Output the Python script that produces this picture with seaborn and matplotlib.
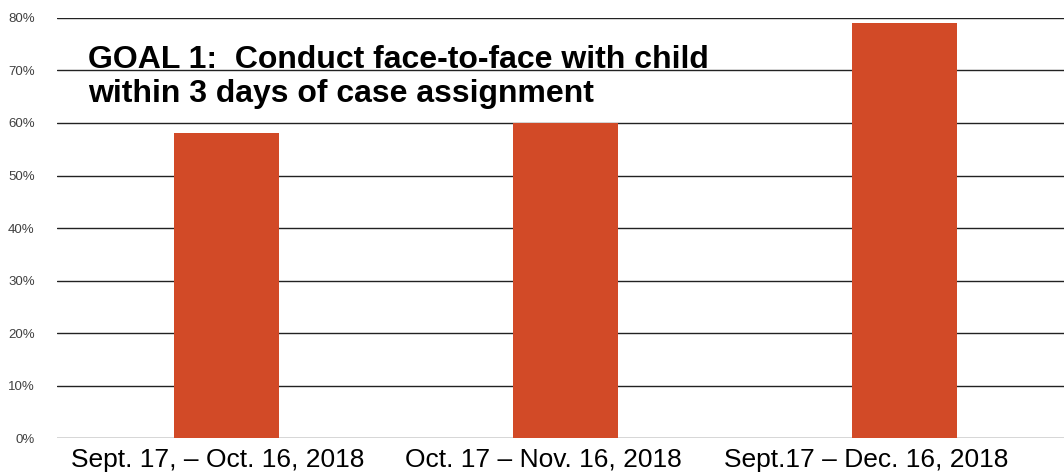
import pandas as pd
import numpy as np
import matplotlib
matplotlib.use("Agg")
import matplotlib.pyplot as plt
import matplotlib.transforms as mtransforms
import seaborn as sns
from matplotlib.ticker import PercentFormatter

periods = ["Sept. 17, \u2013 Oct. 16, 2018", "Oct. 17 \u2013 Nov. 16, 2018", "Sept.17 \u2013 Dec. 16, 2018"]
rates = [0.58, 0.60, 0.79]
yticks = [0.0, 0.1, 0.2, 0.3, 0.4, 0.5, 0.6, 0.7, 0.8]

df = pd.DataFrame({"period": periods, "rate": rates})

sns.set_style("white")
plt.rcParams["font.family"] = ["Liberation Sans", "DejaVu Sans"]

fig = plt.figure(figsize=(10.64, 4.76), dpi=100)
ax = fig.add_axes([0.0536, 0.0798, 0.9464, 0.8824])

sns.barplot(data=df, x="period", y="rate", color="#d24a27", saturation=1, width=0.31,
            linewidth=0, ax=ax, zorder=3)

ax.set_ylim(0, 0.8)
ax.set_xlim(-0.5, 2.47)
ax.set_yticks(yticks)
ax.yaxis.set_major_formatter(PercentFormatter(1.0, decimals=0))
for y in yticks[1:]:
    ax.axhline(y, color="#222222", lw=1.0, zorder=1)
ax.axhline(0, color="#d0d0d0", lw=1.2, zorder=1)

for s in ax.spines.values():
    s.set_visible(False)
ax.tick_params(axis="y", labelsize=9.5, colors="#404040", length=0, pad=16)
ax.tick_params(axis="x", labelsize=19, labelcolor="black", length=0, pad=7)
ax.set_xlabel("")
ax.set_ylabel("")

# labels sit left of the bar centres in the original
for lbl, dx in zip(ax.get_xticklabels(), [-0.09, -0.22, -0.38]):
    lbl.set_transform(lbl.get_transform() + mtransforms.ScaledTranslation(dx, 0, fig.dpi_scale_trans))

ax.text(0.031, 0.935, "GOAL 1:  Conduct face-to-face with child\nwithin 3 days of case assignment",
        transform=ax.transAxes, fontsize=23, fontweight="bold", color="black",
        va="top", ha="left", linespacing=1.15, zorder=5)

fig.savefig("out.png", dpi=100)
